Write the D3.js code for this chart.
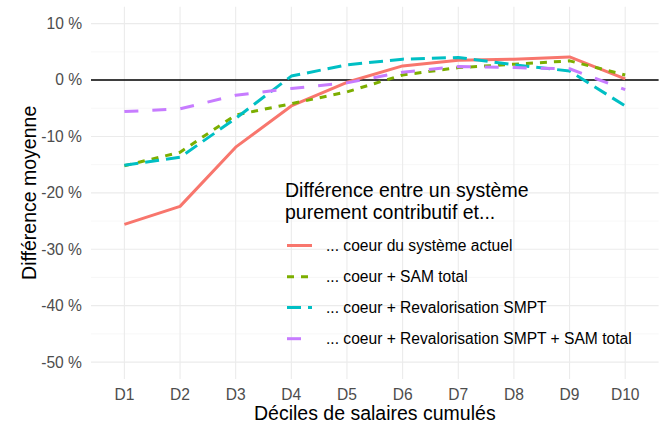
<!DOCTYPE html>
<html>
<head>
<meta charset="utf-8">
<script src="https://cdn.jsdelivr.net/npm/d3@7"></script>
<style>
  html, body { margin: 0; padding: 0; background: #fff; }
  svg { display: block; font-family: "Liberation Sans", Arial, sans-serif; }
</style>
</head>
<body>
<svg id="chart" width="664" height="428"></svg>
<script>
const deciles = ["D1","D2","D3","D4","D5","D6","D7","D8","D9","D10"];
const coeur   = [-25.6, -22.4, -11.9, -4.6, -0.4, 2.5, 3.5, 3.7, 4.1, 0.2];
const sam     = [-15.2, -12.8, -6.2, -4.2, -2.1, 0.9, 2.2, 2.8, 3.4, 0.9];
const smpt    = [-15.1, -13.7, -6.8, 0.7, 2.7, 3.7, 4.0, 2.7, 1.6, -4.6];
const smptSam = [-5.6, -5.1, -2.7, -1.5, -0.5, 1.4, 2.4, 2.2, 2.0, -1.7];
const seriesNames = [
  "... coeur du système actuel",
  "... coeur + SAM total",
  "... coeur + Revalorisation SMPT",
  "... coeur + Revalorisation SMPT + SAM total"
];
const yTicks = [-50, -40, -30, -20, -10, 0, 10];
const yMinor = [-45, -35, -25, -15, -5, 5];
const legendTitle = ["Différence entre un système", "purement contributif et..."];
const xTitle = "Déciles de salaires cumulés";
const yTitle = "Différence moyenne";

const colors = ["#F8766D", "#7CAE00", "#00BFC4", "#C77CFF"];
const unit = 3.5;
const dashes = [null, [2*unit, 2*unit], [4*unit, 2*unit], [4*unit, 4*unit]];

const svg = d3.select("#chart");
const panel = {left: 91, right: 658.6, top: 6.7, bottom: 379};

const x = d3.scalePoint().domain(deciles).range([panel.left, panel.right]).padding(0.6);
const y = d3.scaleLinear().domain([-53, 13]).range([panel.bottom, panel.top]);

// grid
const g = svg.append("g");
g.selectAll(".minor").data(yMinor).join("line")
  .attr("x1", panel.left).attr("x2", panel.right)
  .attr("y1", d => y(d)).attr("y2", d => y(d))
  .attr("stroke", "#F2F2F2").attr("stroke-width", 0.6);
g.selectAll(".majorY").data(yTicks).join("line")
  .attr("x1", panel.left).attr("x2", panel.right)
  .attr("y1", d => y(d)).attr("y2", d => y(d))
  .attr("stroke", "#EBEBEB").attr("stroke-width", 1.1);
g.selectAll(".majorX").data(deciles).join("line")
  .attr("x1", d => x(d)).attr("x2", d => x(d))
  .attr("y1", panel.top).attr("y2", panel.bottom)
  .attr("stroke", "#EBEBEB").attr("stroke-width", 1.1);

// zero line
svg.append("line")
  .attr("x1", panel.left).attr("x2", panel.right)
  .attr("y1", y(0)).attr("y2", y(0))
  .attr("stroke", "#000").attr("stroke-width", 1.6);

// axes labels
svg.append("g").selectAll("text").data(yTicks).join("text")
  .attr("x", 82).attr("y", d => y(d))
  .attr("dy", "0.35em").attr("text-anchor", "end")
  .attr("fill", "#4D4D4D").attr("font-size", 15.6)
  .text(d => d + " %");
svg.append("g").selectAll("text").data(deciles).join("text")
  .attr("x", d => x(d)).attr("y", 394.5).attr("dy", "0.35em")
  .attr("text-anchor", "middle")
  .attr("fill", "#4D4D4D").attr("font-size", 15.6)
  .text(d => d);

svg.append("text")
  .attr("x", (panel.left + panel.right) / 2).attr("y", 420)
  .attr("text-anchor", "middle").attr("font-size", 19.5).attr("fill", "#000")
  .text(xTitle);
svg.append("text")
  .attr("transform", `translate(29,${(panel.top + panel.bottom) / 2}) rotate(-90)`)
  .attr("text-anchor", "middle").attr("dy", "0.35em")
  .attr("font-size", 19.5).attr("fill", "#000")
  .text(yTitle);

// lines
const allSeries = [coeur, sam, smpt, smptSam];
const line = d3.line().x((d, i) => x(deciles[i])).y(d => y(d));
allSeries.forEach((s, k) => {
  svg.append("path")
    .datum(s)
    .attr("d", line)
    .attr("fill", "none")
    .attr("stroke", colors[k])
    .attr("stroke-width", 3)
    .attr("stroke-linejoin", "round")
    .attr("stroke-linecap", "butt")
    .attr("stroke-dasharray", dashes[k] ? dashes[k].join(",") : null);
});

// legend
const lg = svg.append("g");
legendTitle.forEach((t, i) => {
  lg.append("text")
    .attr("x", 285).attr("y", 197 + i * 22)
    .attr("font-size", 19.5).attr("fill", "#000")
    .text(t);
});
const rowY = [245.5, 276.8, 307.6, 338.7];
seriesNames.forEach((name, k) => {
  lg.append("line")
    .attr("x1", 287).attr("x2", 312)
    .attr("y1", rowY[k]).attr("y2", rowY[k])
    .attr("stroke", colors[k]).attr("stroke-width", 3)
    .attr("stroke-dasharray", dashes[k] ? dashes[k].join(",") : null);
  lg.append("text")
    .attr("x", 326).attr("y", rowY[k]).attr("dy", "0.35em")
    .attr("font-size", 15.6).attr("fill", "#000")
    .text(name);
});
</script>
</body>
</html>
